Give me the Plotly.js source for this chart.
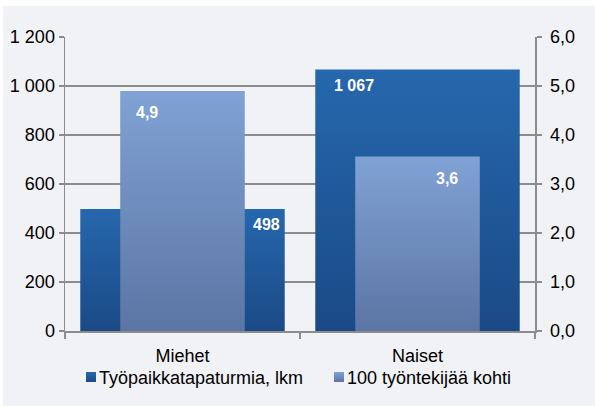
<!DOCTYPE html>
<html><head><meta charset="utf-8">
<script src="https://cdn.plot.ly/plotly-3.0.1.min.js"></script>
<style>
html,body{margin:0;padding:0;background:#ffffff;width:595px;height:406px;overflow:hidden}
#chart{position:absolute;left:3px;top:6px;width:592px;height:400px}
</style></head>
<body><div id="chart"></div>
<script>
const categories = ["Miehet", "Naiset"];
const accidents = [498, 1067];
const per100 = [4.9, 3.56];
const accidentLabels = ["498", "1 067"];
const per100Labels = ["4,9", "3,6"];
const seriesNames = ["Työpaikkatapaturmia, lkm", "100 työntekijää kohti"];
const leftTicks = [0, 200, 400, 600, 800, 1000, 1200];
const rightTicks = [0, 1, 2, 3, 4, 5, 6];

const font = "Liberation Sans, Arial, sans-serif";
const traces = [
  {type: "bar", x: categories, y: accidents, name: seriesNames[0], yaxis: "y",
   width: 0.87, marker: {color: "#215a9c"}, hoverinfo: "skip"},
  {type: "bar", x: categories, y: per100, name: seriesNames[1], yaxis: "y2",
   width: 0.53, marker: {color: "#6d8cbf"}, hoverinfo: "skip"}
];
const labelShift = [
  {dx: 84, dy: -16}, {dx: -64, dy: -16}
];
const labelShift2 = [
  {dx: -36, dy: -22}, {dx: 29, dy: -22}
];
const annotations = [];
categories.forEach((c, i) => {
  annotations.push({x: c, y: accidents[i], xref: "x", yref: "y", text: accidentLabels[i],
    showarrow: false, xshift: labelShift[i].dx, yshift: labelShift[i].dy,
    xanchor: "center", yanchor: "middle",
    font: {family: font, size: 16, color: "#ffffff", weight: "bold"}});
  annotations.push({x: c, y: per100[i], xref: "x", yref: "y2", text: per100Labels[i],
    showarrow: false, xshift: labelShift2[i].dx, yshift: labelShift2[i].dy,
    xanchor: "center", yanchor: "middle",
    font: {family: font, size: 16, color: "#ffffff", weight: "bold"}});
});
const layout = {
  width: 592, height: 400,
  margin: {l: 62, r: 60, t: 31, b: 75},
  paper_bgcolor: "#f0f2f5", plot_bgcolor: "rgba(0,0,0,0)",
  separators: ", ",
  barmode: "overlay",
  showlegend: true,
  font: {family: font, size: 18, color: "#000000"},
  xaxis: {showline: true, linecolor: "#8c8c8c", linewidth: 1.5, ticks: "outside",
          tickson: "boundaries", ticklen: 6, tickcolor: "#8c8c8c", tickwidth: 1.5,
          ticklabelstandoff: 8, tickfont: {size: 18}, showgrid: false, fixedrange: true},
  yaxis: {range: [0, 1200], tickvals: leftTicks, tickformat: ",d", showline: true,
          linecolor: "#8c8c8c", linewidth: 1.5, ticks: "outside", ticklen: 5,
          tickcolor: "#8c8c8c", tickwidth: 1.5, showgrid: true, gridcolor: "#8c8c8c",
          gridwidth: 1.5, zeroline: false, tickfont: {size: 18}},
  yaxis2: {range: [0, 6], tickvals: rightTicks, tickformat: ".1f", overlaying: "y",
           side: "right", showline: true, linecolor: "#8c8c8c", linewidth: 1.5,
           ticks: "outside", ticklen: 5, tickcolor: "#8c8c8c", tickwidth: 1.5,
           ticklabelstandoff: 5, showgrid: false, zeroline: false, tickfont: {size: 18}},
  legend: {orientation: "h", xref: "container", x: 0.5, xanchor: "center",
           yref: "container", y: 0.07, yanchor: "middle", font: {size: 18},
           bgcolor: "rgba(0,0,0,0)", itemwidth: 30, tracegroupgap: 0},
  annotations: annotations
};
Plotly.newPlot("chart", traces, layout, {displayModeBar: false, staticPlot: true}).then(gd => {
  const svg = gd.querySelector("svg.main-svg");
  const ns = "http://www.w3.org/2000/svg";
  let defs = svg.querySelector("defs");
  if (!defs) { defs = document.createElementNS(ns, "defs"); svg.insertBefore(defs, svg.firstChild); }
  function grad(id, top, bot) {
    const g = document.createElementNS(ns, "linearGradient");
    g.setAttribute("id", id); g.setAttribute("x1", "0"); g.setAttribute("y1", "0");
    g.setAttribute("x2", "0"); g.setAttribute("y2", "1");
    [[0, top], [1, bot]].forEach(([o, c]) => {
      const s = document.createElementNS(ns, "stop");
      s.setAttribute("offset", o); s.setAttribute("stop-color", c); g.appendChild(s);
    });
    defs.appendChild(g);
  }
  grad("gDark", "#2667ad", "#1a4a86");
  grad("gLight", "#80a2d4", "#5b75a4");
  const ids = ["gDark", "gLight"];
  gd.querySelectorAll(".barlayer .trace.bars").forEach((t, i) => {
    t.querySelectorAll("path").forEach(p => { p.style.fill = "url(#" + ids[i] + ")"; });
  });
  // compact one-row legend: small square symbols close to the text, like the original
  const symbolTargets = [86, 334]; // page x of each legend symbol's left edge
  const rowCenterY = 377;          // page y of the legend row's centre
  const groups = gd.querySelectorAll(".legend .traces");
  if (groups.length === 2) {
    groups.forEach((t, i) => {
      const p = t.querySelector(".legendpoints path");
      if (!p) return;
      p.setAttribute("d", "M5,5H-5V-5H5Z");
      p.style.fill = "url(#" + ids[i] + ")"; p.style.stroke = "none";
      const txt = t.querySelector("text.legendtext");
      if (txt) txt.setAttribute("x", "28");
      const r = p.getBoundingClientRect();
      const dx = symbolTargets[i] - r.left;
      const dy = rowCenterY - (r.top + r.height / 2);
      const m = /translate\(([-\d.]+),\s*([-\d.]+)\)/.exec(t.getAttribute("transform") || "");
      const tx = m ? parseFloat(m[1]) : 0, ty = m ? parseFloat(m[2]) : 0;
      t.setAttribute("transform", "translate(" + (tx + dx) + "," + (ty + dy) + ")");
    });
    const sb = gd.querySelector(".legend .scrollbox");
    if (sb) sb.removeAttribute("clip-path");
    const lg = gd.querySelector(".legend");
    if (lg) lg.removeAttribute("clip-path");
  }
});
</script></body></html>
